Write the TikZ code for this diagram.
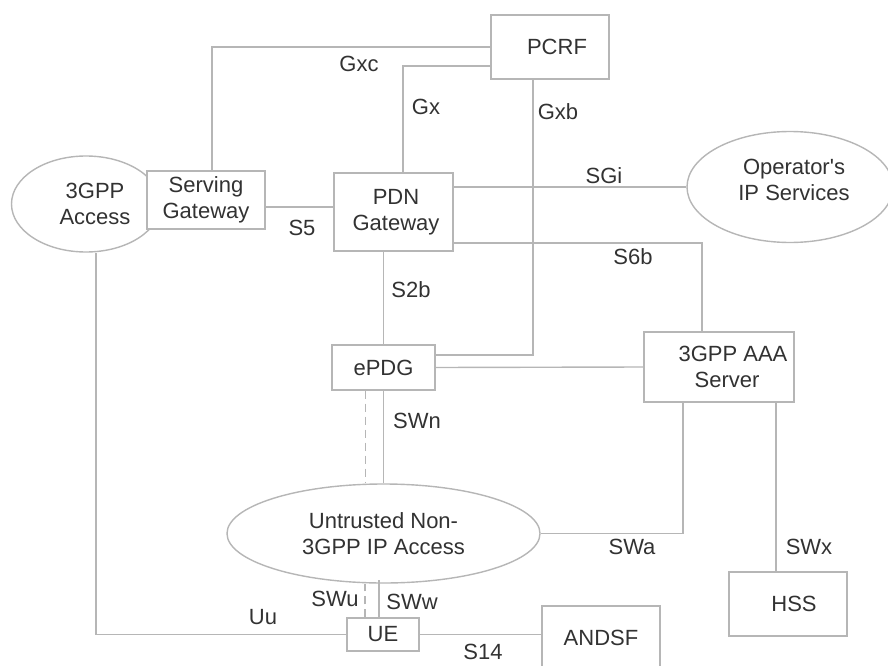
\documentclass[tikz,border=0pt]{standalone}
\usepackage{fontspec}
\setmainfont{Liberation Sans}
\usetikzlibrary{shapes.geometric}
\definecolor{linegray}{RGB}{182,182,182}
\definecolor{textgray}{RGB}{50,50,50}
\begin{document}
\begin{tikzpicture}[x=1pt, y=-1pt,
		font=\fontsize{22}{26}\selectfont, text=textgray,
		entity/.style={draw=linegray, line width=1.4pt, fill=white, inner sep=0pt, align=center},
		cloud/.style={entity, ellipse},
		link/.style={draw=linegray, line width=1.4pt},
		hint/.style={link, dash pattern=on 8pt off 5pt},
		iface/.style={inner sep=0pt}]
				\useasboundingbox (0,0) rectangle (888,666);
				
				\node[cloud, minimum width=149, minimum height=96] (acc) at (86,204) {\hspace*{18pt}3GPP\\\hspace*{18pt}Access};
				\node[entity, minimum width=118, minimum height=58] (sgw) at (206,200) {Serving\\Gateway};
				\node[entity, minimum width=119, minimum height=78] (pdn) at (393.5,212) {\hspace*{5pt}PDN\\\hspace*{5pt}Gateway};
				\node[entity, minimum width=118, minimum height=64] (pcrf) at (550,47) {\hspace*{14pt}PCRF};
				\node[cloud, minimum width=206, minimum height=111] (ops) at (790,187) {\hspace*{8pt}Operator\textquotesingle s\\\hspace*{8pt}IP Services\\[-12pt]};
				\node[entity, minimum width=103, minimum height=45] (epdg) at (383.5,367.5) {ePDG};
				\node[entity, minimum width=150, minimum height=70] (aaa) at (719,367) {\hspace*{28pt}3GPP AAA\\\hspace*{16pt}Server};
				\node[cloud, minimum width=313, minimum height=99] (untr) at (383.5,533.5) {Untrusted Non-\\3GPP IP Access};
				\node[entity, minimum width=72, minimum height=33] (ue) at (383,634.5) {UE};
				\node[entity, minimum width=118, minimum height=64] (andsf) at (601,638) {ANDSF};
				\node[entity, minimum width=118, minimum height=64] (hss) at (788,604) {\hspace*{12pt}HSS};
				
				\draw[link] ([xshift=6]sgw.north) |- (pcrf.west);
				\draw[link] ([xshift=9.5]pdn.north) |- ([yshift=-19]pcrf.west);
				\draw[link] ([xshift=-17]pcrf.south) |- ([yshift=12.5]epdg.east);
				\draw[link] ([yshift=-7]sgw.east) -- ([yshift=-7]sgw.east -| pdn.west);
				\draw[link] (pdn.east |- ops.west) -- (ops.west);
				\draw[link] ([yshift=-31]pdn.east) -| ([xshift=-17]aaa.north);
				\draw[link] (epdg.north |- pdn.south) -- (epdg.north);
				\draw[link] (epdg.east) -- (aaa.west);
				\draw[link] (epdg.south) -- (untr.north);
				\draw[hint] ([xshift=-18]epdg.south) -- ([xshift=-18]epdg.south |- untr.north);
				\draw[link] ([xshift=-36]aaa.south) |- (untr.east);
				\draw[link] ([xshift=57]aaa.south) -- ([xshift=57]aaa.south |- hss.north);
				\draw[hint] ([xshift=-18]ue.north) -- ([xshift=-18]ue.north |- untr.south);
				\draw[link] ([xshift=-4]ue.north) -- ([xshift=-4, yshift=4]ue.north |- untr.south);
				\draw[link] ([xshift=10]acc.south) |- (ue.west);
				\draw[link] (ue.east) -- (ue.east -| andsf.west);
				
				\node[iface] (lgxc) at (359,64) {Gxc};
				\node[iface] (lgx) at (426,107) {Gx};
				\node[iface] (lgxb) at (558,112) {Gxb};
				\node[iface] (lsgi) at (604,176) {SGi};
				\node[iface] (ls5) at (302,228) {S5};
				\node[iface] (ls6b) at (633,257) {S6b};
				\node[iface] (ls2b) at (411,290) {S2b};
				\node[iface] (lswn) at (417,421) {SWn};
				\node[iface] (lswa) at (632,547) {SWa};
				\node[iface] (lswx) at (809,547) {SWx};
				\node[iface] (lswu) at (335,599) {SWu};
				\node[iface] (lsww) at (412,602) {SWw};
				\node[iface] (luu) at (263,617) {Uu};
				\node[iface] (ls14) at (483,652) {S14};
\end{tikzpicture}
\end{document}
